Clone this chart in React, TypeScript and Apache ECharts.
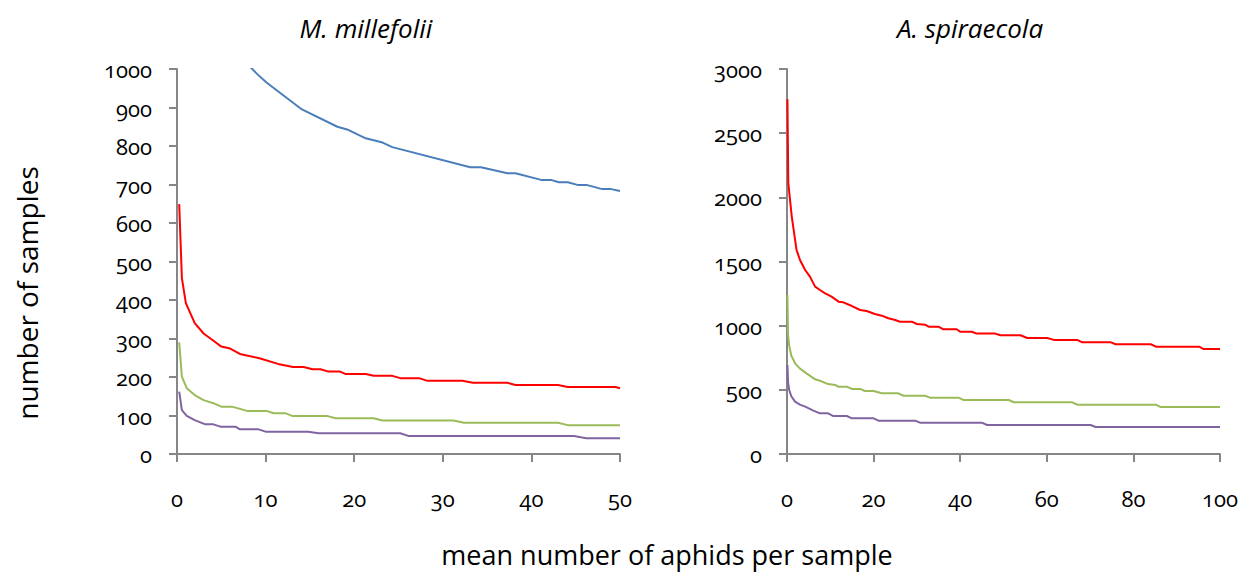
import React, { useEffect, useRef } from "react";
import * as echarts from "echarts";

// Sample-size curves, [mean aphids per sample, number of samples]
const milBlue: number[][] = [
  [0.25, 2600], [0.55, 1830], [1, 1570], [2, 1360], [3, 1250], [4, 1185], [5, 1115],
  [6, 1095], [7, 1045], [8, 1012], [9, 988], [10.1, 965], [14.1, 895], [18.1, 850],
  [19.2, 843], [21.3, 820], [23.2, 809], [24.3, 797], [33.1, 745], [34.3, 745],
  [37.3, 729], [38.2, 729], [41.1, 712], [42.2, 712], [43.1, 706], [44.1, 706],
  [45.2, 699], [46.2, 699], [48, 688], [49, 688], [50, 683],
];
const milRed: number[][] = [
  [0.25, 649], [0.55, 457], [1, 392], [2, 340], [3, 313], [4, 296], [5, 279], [6, 274],
  [7.1, 260], [9.4, 248], [11.4, 234], [13.1, 226], [14.3, 226], [15.3, 220], [16.2, 220],
  [17.1, 214], [18.4, 214], [19, 208], [21.3, 208], [22.2, 203], [24.3, 203], [25.2, 197],
  [27.3, 197], [28.3, 190], [32.2, 190], [33.4, 185], [37.3, 185], [38.2, 179], [43, 179],
  [44.1, 174], [49.5, 174], [50, 171],
];
const milGreen: number[][] = [
  [0.25, 290], [0.55, 201], [1.1, 171], [2, 153], [3, 140], [4.1, 132], [5, 123], [6.2, 123],
  [7.9, 112], [10.1, 112], [10.9, 106], [12.2, 106], [13, 99], [16.9, 99], [17.9, 93],
  [22.2, 93], [23.2, 87], [31.2, 87], [32.4, 81], [43, 81], [44.1, 75], [50, 75],
];
const milPurple: number[][] = [
  [0.25, 162], [0.55, 114], [1.1, 99], [2, 88], [3.2, 77], [4.1, 77], [4.9, 71], [6.6, 71],
  [7.1, 64], [9.2, 64], [10, 58], [14.8, 58], [16, 54], [25.2, 54], [26.1, 47], [44.8, 47],
  [46.2, 41], [50, 41],
];

const spiRed: number[][] = [
  [0.1, 2764], [0.3, 2112], [1.1, 1850], [2.2, 1590], [3, 1512], [4.2, 1434], [5.3, 1382],
  [6.5, 1304], [7.6, 1278], [8.8, 1252], [10.3, 1226], [11.9, 1187], [13, 1182], [15, 1153],
  [16.9, 1122], [18.4, 1114], [20.3, 1091], [21.9, 1078], [23.4, 1058], [25, 1044],
  [26.1, 1031], [28.8, 1031], [30, 1013], [31.9, 1008], [32.7, 992], [35, 992], [36.1, 972],
  [39.2, 972], [40, 953], [42.7, 953], [43.8, 938], [48.1, 938], [49.3, 925], [53.9, 925],
  [55.5, 904], [60.1, 904], [61.6, 889], [67, 889], [68.2, 870], [74.8, 870], [75.9, 855],
  [84, 855], [85.2, 836], [95.2, 836], [96.2, 818], [100, 818],
];
const spiGreen: number[][] = [
  [0.1, 1239], [0.25, 930], [0.5, 845], [1, 765], [2, 700], [3, 665], [4.5, 628], [6.5, 582],
  [7.6, 571], [9.5, 545], [11.1, 538], [11.9, 524], [13.8, 524], [15, 507], [16.9, 507],
  [18, 491], [20, 491], [21.9, 473], [25.7, 473], [26.9, 454], [31.9, 454], [33, 439],
  [39.6, 439], [40.7, 421], [51.2, 421], [52.4, 403], [65.9, 403], [67.1, 384], [85.2, 384],
  [86.3, 366], [100, 366],
];
const spiPurple: number[][] = [
  [0.1, 694], [0.25, 560], [0.5, 500], [1, 450], [1.85, 408], [3, 385], [4.2, 369],
  [6.1, 338], [7.6, 317], [9.5, 317], [10.7, 296], [13.8, 296], [15, 278], [20, 278],
  [21.1, 260], [29.6, 260], [30.7, 244], [45, 244], [46.2, 226], [70.1, 226], [71.3, 210],
  [100, 210],
];

const titles = ["M. millefolii", "A. spiraecola"];
const yTitle = "number of samples";
const xTitle = "mean number of aphids per sample";

const colors = { blue: "#4a7ebb", red: "#ff0000", green: "#9bbb59", purple: "#8064a2" };
const FONT = "'Open Sans', 'Noto Sans', sans-serif";
const axisGrey = "#868686";
const plain = (v: number) => String(v);

function makeX(gridIndex: number, max: number, interval: number) {
  return {
    type: "value" as const,
    gridIndex,
    min: 0,
    max,
    interval,
    axisLine: { show: true, onZero: false, lineStyle: { color: axisGrey, width: 2 } },
    axisTick: { show: true, length: 8, lineStyle: { color: axisGrey, width: 2 } },
    axisLabel: { margin: 33, color: "#000", fontSize: 22, fontFamily: FONT, formatter: plain },
    splitLine: { show: false },
  };
}
function makeY(gridIndex: number, max: number, interval: number) {
  return {
    type: "value" as const,
    gridIndex,
    min: 0,
    max,
    interval,
    axisLine: { show: true, onZero: false, lineStyle: { color: axisGrey, width: 2 } },
    axisTick: { show: true, length: 8, lineStyle: { color: axisGrey, width: 2 } },
    axisLabel: { margin: 25, color: "#000", fontSize: 22, fontFamily: FONT, formatter: plain },
    splitLine: { show: false },
  };
}
function line(data: number[][], color: string, idx: number) {
  return {
    type: "line" as const,
    xAxisIndex: idx,
    yAxisIndex: idx,
    data,
    showSymbol: false,
    clip: true,
    lineStyle: { color, width: 2 },
    itemStyle: { color },
  };
}

export default function App() {
  const ref = useRef<HTMLDivElement>(null);
  useEffect(() => {
    if (!ref.current) return;
    const chart = echarts.init(ref.current, null, { renderer: "svg" });
    chart.setOption({
      animation: false,
      backgroundColor: "#fff",
      grid: [
        { left: 177, top: 69, width: 443, height: 385 },
        { left: 787, top: 69, width: 433, height: 385 },
      ],
      xAxis: [makeX(0, 50, 10), makeX(1, 100, 20)],
      yAxis: [makeY(0, 1000, 100), makeY(1, 3000, 500)],
      series: [
        line(milBlue, colors.blue, 0),
        line(milRed, colors.red, 0),
        line(milGreen, colors.green, 0),
        line(milPurple, colors.purple, 0),
        line(spiRed, colors.red, 1),
        line(spiGreen, colors.green, 1),
        line(spiPurple, colors.purple, 1),
      ],
      graphic: [
        {
          type: "text", x: 366, y: 28,
          style: { text: titles[0], fontSize: 26, fontStyle: "italic", fontFamily: FONT, fill: "#000", align: "center", verticalAlign: "middle" },
        },
        {
          type: "text", x: 970, y: 28,
          style: { text: titles[1], fontSize: 26, fontStyle: "italic", fontFamily: FONT, fill: "#000", align: "center", verticalAlign: "middle" },
        },
        {
          type: "text", x: 27, y: 293, rotation: Math.PI / 2,
          style: { text: yTitle, fontSize: 28, fontFamily: FONT, fill: "#000", align: "center", verticalAlign: "middle" },
        },
        {
          type: "text", x: 667, y: 554,
          style: { text: xTitle, fontSize: 27, fontFamily: FONT, fill: "#000", align: "center", verticalAlign: "middle" },
        },
      ],
    });
    return () => chart.dispose();
  }, []);
  return (
    <div
      ref={ref}
      style={{
        position: "fixed", left: 0, top: 0, width: 1250, height: 576,
        fontFeatureSettings: '"onum" 1',
      }}
    />
  );
}
